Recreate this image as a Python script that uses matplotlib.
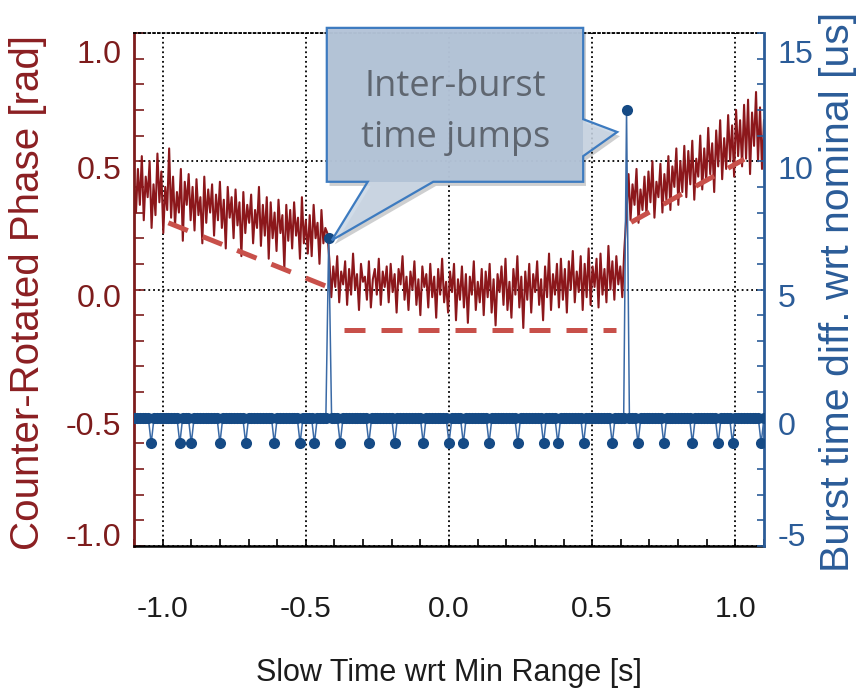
"""
Counter-rotated phase vs. burst time difference, with inter-burst time jumps.
"""

import matplotlib
matplotlib.use("Agg")
import matplotlib.pyplot as plt
import matplotlib.patheffects as pe
import matplotlib.transforms as mtransforms
from matplotlib import font_manager
from matplotlib.patches import Polygon, Rectangle
from matplotlib.ticker import MultipleLocator
import numpy as np


# counter-rotated phase [rad] in three pieces
phase_pre = [
    0.42, 0.30, 0.47, 0.33, 0.52, 0.27, 0.44, 0.36, 0.50, 0.24,
    0.41, 0.29, 0.53, 0.34, 0.46, 0.22, 0.40, 0.31, 0.55, 0.28,
    0.44, 0.25, 0.38, 0.30, 0.47, 0.19, 0.42, 0.33, 0.45, 0.27,
    0.40, 0.23, 0.43, 0.29, 0.36, 0.18, 0.44, 0.26, 0.39, 0.30,
    0.41, 0.21, 0.37, 0.27, 0.42, 0.24, 0.35, 0.16, 0.40, 0.28,
    0.36, 0.20, 0.39, 0.25, 0.34, 0.13, 0.38, 0.22, 0.33, 0.26,
    0.37, 0.18, 0.31, 0.24, 0.40, 0.17, 0.33, 0.21, 0.36, 0.12,
    0.34, 0.20, 0.30, 0.15, 0.35, 0.22, 0.29, 0.08, 0.33, 0.19,
    0.31, 0.16, 0.34, 0.21, 0.28, 0.12, 0.36, 0.18, 0.27, 0.14,
    0.29, 0.13, 0.33, 0.20, 0.26, 0.10, 0.31, 0.18, 0.24, 0.22,
]
phase_mid = [
    0.12, -0.03, 0.09, 0.01, 0.13, -0.05, 0.07, 0.02, 0.11, -0.06,
    0.08, -0.02, 0.14, 0.00, 0.06, -0.08, 0.10, 0.03, 0.05, -0.04,
    0.11, -0.07, 0.04, 0.08, -0.02, 0.12, -0.06, 0.07, 0.01, 0.09,
    -0.05, 0.10, -0.01, 0.06, -0.09, 0.08, 0.02, 0.13, -0.04, 0.05,
    -0.08, 0.07, 0.00, 0.11, -0.06, 0.04, -0.10, 0.09, 0.01, 0.06,
    -0.07, 0.10, -0.03, 0.05, -0.11, 0.08, -0.02, 0.12, -0.05, 0.03,
    -0.09, 0.07, -0.01, 0.10, -0.12, 0.04, -0.04, 0.09, -0.07, 0.06,
    -0.13, 0.05, -0.02, 0.11, -0.08, 0.03, -0.05, 0.08, -0.10, 0.07,
    -0.03, 0.10, -0.09, 0.04, -0.14, 0.06, -0.01, 0.09, -0.06, 0.12,
    -0.08, 0.03, -0.11, 0.08, -0.02, 0.13, -0.07, 0.05, -0.15, 0.07,
    -0.04, 0.10, -0.09, 0.06, -0.01, 0.11, -0.06, 0.04, -0.12, 0.09,
    -0.03, 0.14, -0.08, 0.06, -0.02, 0.10, -0.07, 0.12, -0.04, 0.08,
    -0.09, 0.11, 0.00, 0.15, -0.05, 0.07, -0.01, 0.13, -0.08, 0.10,
    -0.03, 0.16, -0.06, 0.09, 0.01, 0.12, -0.07, 0.14, -0.02, 0.08,
    -0.05, 0.17, 0.00, 0.11, -0.04, 0.13, 0.02, 0.09, -0.03, 0.15,
]
phase_post = [
    0.30, 0.45, 0.27, 0.41, 0.33, 0.47, 0.26, 0.39, 0.31, 0.44,
    0.29, 0.46, 0.34, 0.50, 0.28, 0.42, 0.36, 0.49, 0.30, 0.45,
    0.35, 0.52, 0.31, 0.48, 0.40, 0.55, 0.33, 0.50, 0.38, 0.56,
    0.36, 0.54, 0.41, 0.58, 0.35, 0.51, 0.44, 0.60, 0.39, 0.55,
    0.42, 0.63, 0.45, 0.57, 0.38, 0.62, 0.48, 0.66, 0.43, 0.59,
    0.47, 0.68, 0.50, 0.64, 0.44, 0.70, 0.52, 0.66, 0.48, 0.72,
    0.51, 0.74, 0.45, 0.69, 0.56, 0.77, 0.50, 0.71, 0.47, 0.66,
]
# start / end slow time [s] of each phase piece
phase_spans = [(-1.10, -0.425), (-0.418, 0.612), (0.620, 1.10)]

# dashed phase trend lines
trend_x = [[-0.98, -0.427], [-0.367, 0.584], [0.636, 1.031]]
trend_y = [[0.26, 0.012], [-0.156, -0.156], [0.262, 0.508]]

# burst time difference wrt nominal [us]
burst_step = 0.01
dip_times = [-1.038, -0.944, -0.895, -0.801, -0.706, -0.612, -0.517, -0.472,
             -0.378, -0.283, -0.189, -0.094, 0.000, 0.049, 0.143, 0.238,
             0.332, 0.378, 0.472, 0.566, 0.661, 0.755, 0.850, 0.944,
             0.993, 1.087]
dip_value = -1.0
jump_times = [-0.423, 0.616]
jump_values = [7.0, 12.0]

RED = "#8c171b"
RED_LABEL = "#7d1c1c"
TREND = "#c8504a"
BLUE = "#154a85"
BLUE_LABEL = "#2b5c98"
SANS = ["Liberation Sans", "DejaVu Sans"]

# the reference's horizontal text is condensed; fall back to a smaller size
_names = {f.name for f in font_manager.fontManager.ttflist}
if "Liberation Sans Narrow" in _names:
    NARROW, NSCALE = ["Liberation Sans Narrow", "DejaVu Sans"], 1.0
else:
    NARROW, NSCALE = SANS, 0.83

plt.rcParams["axes.unicode_minus"] = False


def main() -> None:
    phase_t = np.concatenate([np.linspace(a, b, len(v)) for (a, b), v in
                              zip(phase_spans, [phase_pre, phase_mid, phase_post])])
    phase = np.concatenate([phase_pre, phase_mid, phase_post])

    burst_t = np.round(np.arange(-1.10, 1.10 + burst_step / 2, burst_step), 4)
    burst = np.zeros_like(burst_t)
    for t in dip_times:
        burst[np.argmin(np.abs(burst_t - t))] = dip_value
    for t, v in zip(jump_times, jump_values):
        burst[np.argmin(np.abs(burst_t - t))] = v

    fig = plt.figure(figsize=(8.58, 6.88), dpi=100)
    ax = fig.add_axes([134 / 858, 1 - 546 / 688, 630 / 858, 513 / 688])
    ax2 = ax.twinx()

    ax.plot(phase_t, phase, color=RED, lw=1.5, zorder=2)
    for xs, ys in zip(trend_x, trend_y):
        ax.plot(xs, ys, color=TREND, lw=3.6, dashes=(4.2, 3.2), zorder=3,
                solid_capstyle="butt", dash_capstyle="butt")

    ax2.plot(burst_t, burst, color="#3a6aa6", lw=1.1, marker="o", ms=8,
             mfc=BLUE, mec=BLUE, mew=0, zorder=4)

    ax.set_xlim(-1.1, 1.1)
    ax.set_ylim(-1.0, 1.0)
    ax2.set_ylim(-5, 15)

    ax.set_xticks([-1.0, -0.5, 0.0, 0.5, 1.0])
    ax.set_xticklabels(["-1.0", "-0.5", "0.0", "0.5", "1.0"])
    ax.xaxis.set_minor_locator(MultipleLocator(0.1))
    ax.set_yticks([-1.0, -0.5, 0.0, 0.5, 1.0])
    ax.set_yticklabels(["-1.0", "-0.5", "0.0", "0.5", "1.0"])
    ax.yaxis.set_minor_locator(MultipleLocator(0.1))
    ax2.set_yticks([-5, 0, 5, 10, 15])
    ax2.set_yticklabels(["-5", "0", "5", "10", "15"])
    ax2.yaxis.set_minor_locator(MultipleLocator(1))

    ax.grid(True, which="major", linestyle=":", color="black", lw=1.3)
    ax.set_axisbelow(True)

    ax.spines["right"].set_visible(False)
    for side in ["left", "bottom", "top"]:
        ax2.spines[side].set_visible(False)
    ax.spines["top"].set_linestyle(":")
    ax.spines["top"].set_linewidth(1.3)
    ax.spines["left"].set_color(RED_LABEL)
    ax.spines["left"].set_linewidth(2)
    ax.spines["bottom"].set_linewidth(1.8)
    ax2.spines["right"].set_color(BLUE_LABEL)
    ax2.spines["right"].set_linewidth(2)

    ax.tick_params(axis="x", which="both", direction="in", length=5, width=1.2,
                   top=False, pad=35, labelsize=26 * NSCALE, labelcolor="#1c1c1c",
                   labelfontfamily=NARROW)
    ax.tick_params(axis="y", which="both", direction="in", length=7, width=1.2,
                   right=False, color=RED_LABEL, pad=9, labelsize=28 * NSCALE,
                   labelcolor=RED_LABEL, labelfontfamily=NARROW)
    ax2.tick_params(axis="y", which="both", direction="in", length=5, width=1.2,
                    left=False, color=BLUE_LABEL, pad=10, labelsize=28 * NSCALE,
                    labelcolor=BLUE_LABEL, labelfontfamily=NARROW)

    # tick labels sit a little below their ticks, end labels pulled inside
    shifts = [8.6, -4.3, -4.3, -4.3, -13.4]
    for axis in [ax.yaxis, ax2.yaxis]:
        for tick, dy in zip(axis.get_major_ticks(), shifts):
            for lab in (tick.label1, tick.label2):
                lab.set_transform(lab.get_transform() + mtransforms.ScaledTranslation(
                    0, dy / 72, fig.dpi_scale_trans))

    fig.text(449 / 858, 7 / 688, "Slow Time wrt Min Range [s]", ha="center",
             va="baseline", fontsize=26.5 * NSCALE, family=NARROW, color="#1c1c1c")
    fig.text(28 / 858, 1 - 292 / 688, "Counter-Rotated Phase [rad]", rotation=90,
             ha="center", va="center", fontsize=29, family=SANS, color="#8b1f22")
    fig.text(838 / 858, 1 - 292 / 688, "Burst time diff. wrt nominal [us]", rotation=90,
             ha="center", va="center", fontsize=29.5, family=SANS, color=BLUE_LABEL)

    # callout box with two pointers
    x0, x1, y0, y1 = 0.306, 0.713, 0.710, 1.010
    outline = [(x0, y1), (x1, y1), (x1, 0.832), (0.767, 0.807), (x1, 0.760),
               (x1, y0), (0.475, y0), (0.314, 0.596), (0.371, y0), (x0, y0)]
    ax2.add_patch(Polygon(outline, closed=True, transform=ax2.transAxes,
                          facecolor="#c9d6e5", edgecolor="none", alpha=0.85,
                          clip_on=False, zorder=10,
                          path_effects=[pe.SimplePatchShadow(offset=(2, -3), alpha=0.25),
                                        pe.Normal()]))
    ax2.add_patch(Rectangle((x0, y0), x1 - x0, y1 - y0, transform=ax2.transAxes,
                            facecolor="#aebfd4", edgecolor="none", alpha=0.8,
                            clip_on=False, zorder=11))
    ax2.add_patch(Polygon(outline, closed=True, transform=ax2.transAxes,
                          facecolor="none", edgecolor="#3d7bc0", lw=1.6,
                          clip_on=False, zorder=12))
    ax2.text(0.510, 0.877, "Inter-burst", transform=ax2.transAxes, ha="center",
             va="baseline", fontsize=26, family=["Open Sans", "DejaVu Sans"],
             color="#5f6670", zorder=13)
    ax2.text(0.510, 0.778, "time jumps", transform=ax2.transAxes, ha="center",
             va="baseline", fontsize=26, family=["Open Sans", "DejaVu Sans"],
             color="#5f6670", zorder=13)

    fig.savefig("out.png", dpi=100)
    plt.close(fig)


if __name__ == "__main__":
    main()
